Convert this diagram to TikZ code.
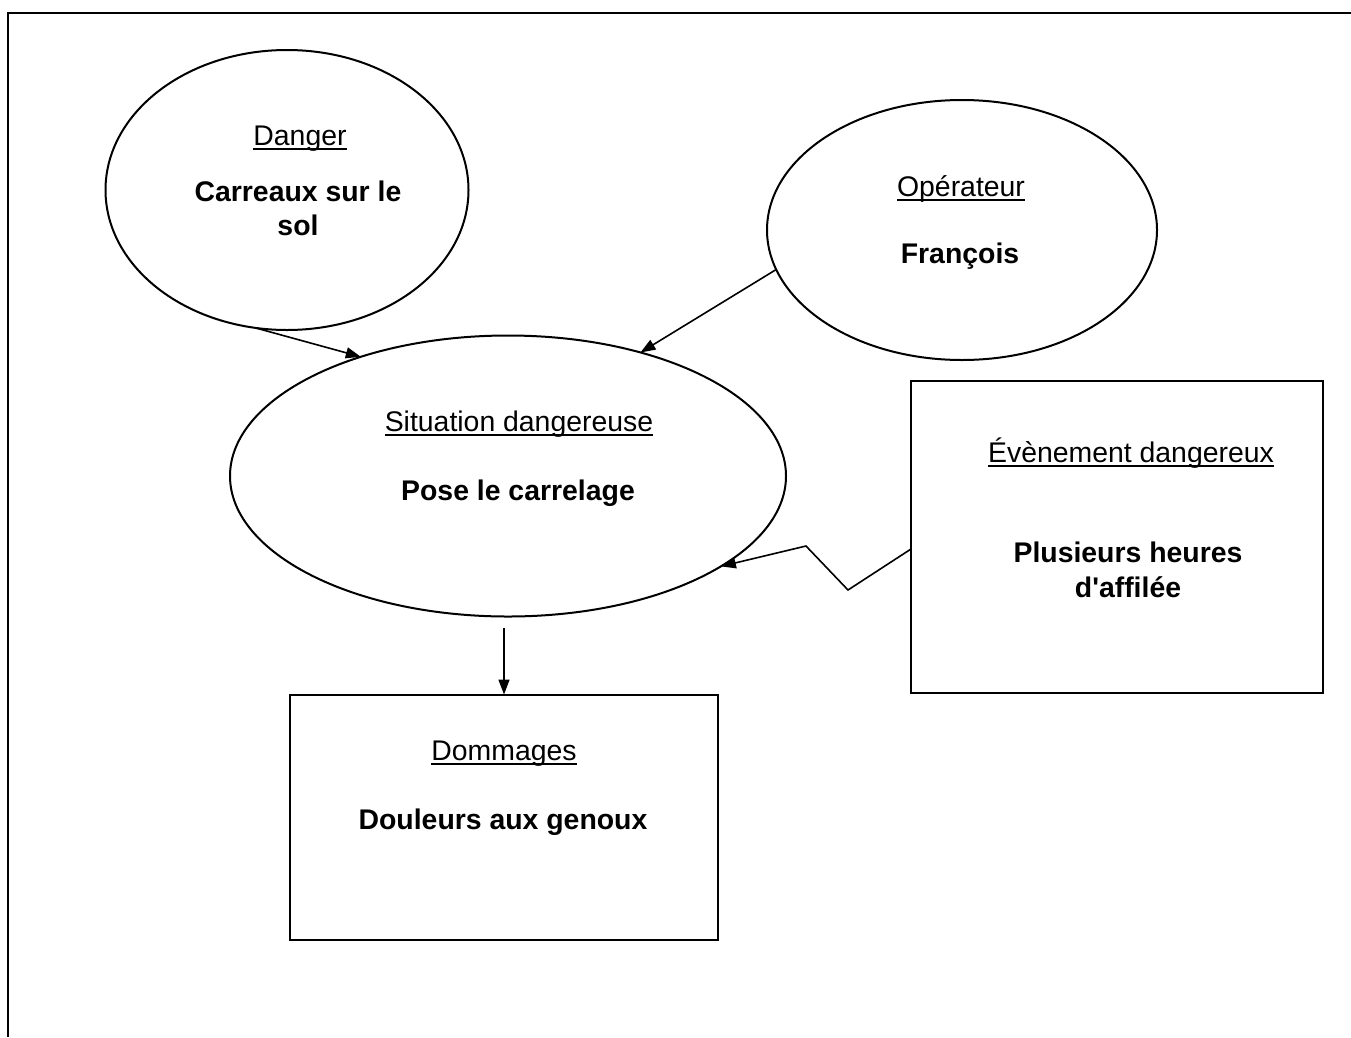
\documentclass[tikz,border=0pt]{standalone}
\usepackage{fontspec}
\setmainfont{Liberation Sans}
\usetikzlibrary{shapes.geometric,arrows.meta,calc}
\newcommand\ulin[1]{\setbox0\hbox{#1}\rlap{\rule[-4.5pt]{\wd0}{1.8pt}}\box0}
\tikzset{
  ell/.style={draw,line width=2pt,ellipse,inner sep=0pt,outer sep=0pt},
  bx/.style={draw,line width=2pt,rectangle,inner sep=0pt,outer sep=0pt},
  lbl/.style={anchor=base,inner sep=0pt,font=\fontsize{28.4}{33}\selectfont},
  bld/.style={anchor=base,inner sep=0pt,font=\fontsize{28.4}{33}\selectfont\bfseries},
  arr/.style={line width=1.6pt,-{Triangle[length=15pt,width=11pt]}},
  frame/.style={line width=2.4pt}
}
\begin{document}
\begin{tikzpicture}[x=1pt,y=-1pt]
\useasboundingbox (0,0) rectangle (1351,1037);
% frame
\coordinate (ftl) at (8,13);
\coordinate (ftr) at (1351,13);
\coordinate (fbl) at (8,1037);
\draw[frame] (ftr) -- (ftl) -- (fbl);
% shapes
\node[ell,minimum width=363pt,minimum height=280pt] (danger) at (287,190) {};
\node[ell,minimum width=390pt,minimum height=260pt] (oper) at (962,230) {};
\node[ell,minimum width=556pt,minimum height=281pt] (sit) at (508,476) {};
\node[bx,minimum width=412pt,minimum height=312pt] (ev) at (1117,537) {};
\node[bx,minimum width=428pt,minimum height=245pt] (dom) at (504,817) {};
% texts
\node[lbl] (t1) at (300,145) {\ulin{Danger}};
\node[bld] (t2) at (298,201) {Carreaux sur le};
\node[bld] (t3) at (298,235) {sol};
\node[lbl] (t4) at (961,196) {\ulin{Opérateur}};
\node[bld] (t5) at (960,263) {François};
\node[lbl] (t6) at (519,431) {\ulin{Situation dangereuse}};
\node[bld] (t7) at (518,500) {Pose le carrelage};
\node[lbl] (t8) at (1131,462) {\ulin{Évènement dangereux}};
\node[bld] (t9) at (1128,562) {Plusieurs heures};
\node[bld] (t10) at (1128,597) {d\textquotesingle affilée};
\node[lbl] (t11) at (504,760) {\ulin{Dommages}};
\node[bld] (t12) at (503,829) {Douleurs aux genoux};
% connectors
\draw[arr] (danger.257) -- (sit.141);
\draw[arr] (oper.192) -- (sit.43);
\draw[arr] ($(dom.north |- sit.south)+(0,11)$) -- (dom.north);
\coordinate (z1) at (848,590);
\coordinate (z2) at (806,546);
\draw[arr] ($(ev.west)+(0,12)$) -- (z1) -- (z2) -- (sit.337);
\end{tikzpicture}
\end{document}
